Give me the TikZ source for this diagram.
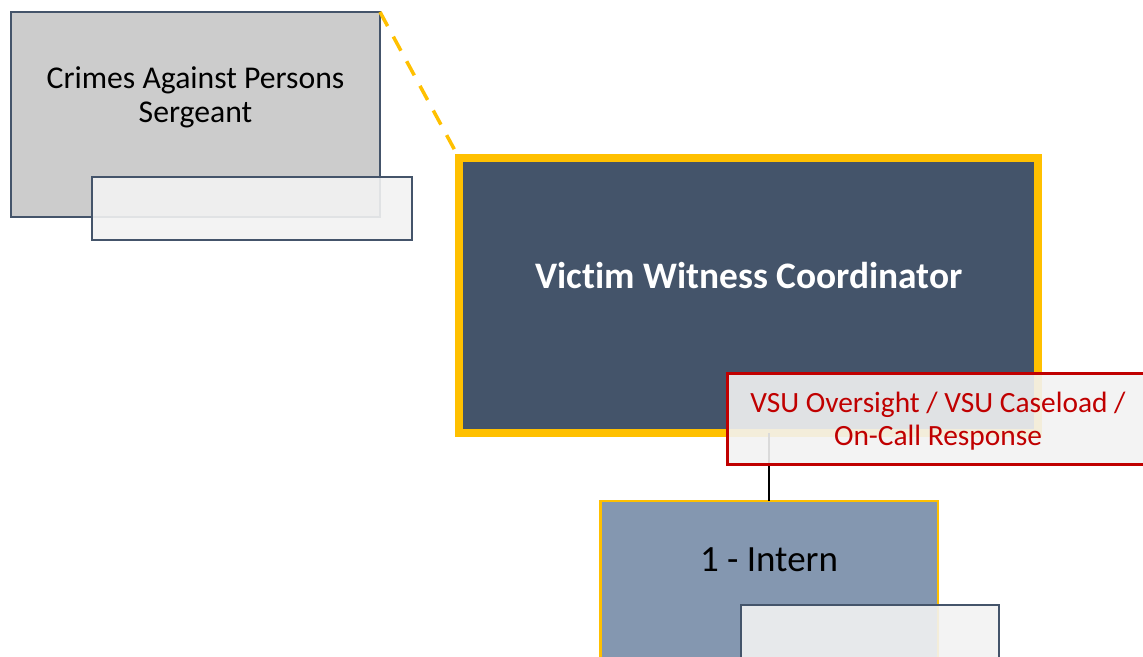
\documentclass[tikz,border=0pt]{standalone}
\usepackage{fontspec}
\setmainfont{Carlito}[Ligatures=NoCommon]
\definecolor{slate}{HTML}{44546A}
\definecolor{boxgray}{HTML}{CCCCCC}
\definecolor{gold}{HTML}{FFC000}
\definecolor{alertred}{HTML}{C00000}
\definecolor{internblue}{HTML}{8497B0}
\definecolor{notefill}{HTML}{F2F2F2}
\tikzset{
  plainbox/.style={rectangle, inner sep=0pt, outer sep=0pt},
  notebox/.style={plainbox, draw=slate, line width=2.5pt, fill=notefill, fill opacity=0.9},
  label/.style={inner sep=0pt, outer sep=0pt, align=center, anchor=base},
}
\begin{document}
\begin{tikzpicture}[x=1pt, y=-1pt]
  \clip (0,0) rectangle (1143,656);
  \fill[white] (0,0) rectangle (1143,656);

  % upper-left supervisor box with its note tab
  \node[plainbox, draw=slate, line width=2.5pt, fill=boxgray,
        minimum width=369pt, minimum height=205pt] (crimes) at (195.5,114.5) {};
  \node[label, font=\fontsize{31.7}{34}\selectfont] (crimeslbl) at (195.5,122)
        {Crimes Against Persons\\Sergeant};
  \node[notebox, minimum width=320pt, minimum height=63pt] (crimesnote) at (252,208.5) {};

  % coordinator box
  \node[plainbox, draw=gold, line width=8pt, fill=slate,
        minimum width=579pt, minimum height=275pt] (coord) at (748.5,295.5) {};
  \node[label, text=white, font=\fontsize{37.4}{40}\selectfont\bfseries] (coordlbl) at (749,288)
        {Victim Witness Coordinator};

  % dotted-line reporting link
  \draw[gold, line width=3.5pt, dash pattern=on 16pt off 12pt]
        (crimes.north east) -- (coord.north west);

  % intern box
  \node[plainbox, draw=gold, line width=2.5pt, fill=internblue,
        minimum width=337.5pt, minimum height=218.75pt] (intern) at (769,610.6) {};
  \node[label, font=\fontsize{37}{40}\selectfont] (internlbl) at (769,571) {1 - Intern};
  \node[notebox, minimum width=258pt, minimum height=115pt] (internnote) at (870,662.5) {};

  % reporting line
  \draw[black, line width=2pt] (coord.south -| intern.north) -- (intern.north);

  % duties tab
  \node[plainbox, draw=alertred, line width=3pt, fill=notefill, fill opacity=0.9,
        minimum width=432.5pt, minimum height=91pt] (duties) at (943.75,419) {};
  \node[label, text=alertred, font=\fontsize{29.4}{33}\selectfont] (dutieslbl) at (938,445)
        {VSU Oversight / VSU Caseload /\\On-Call Response};
\end{tikzpicture}
\end{document}
